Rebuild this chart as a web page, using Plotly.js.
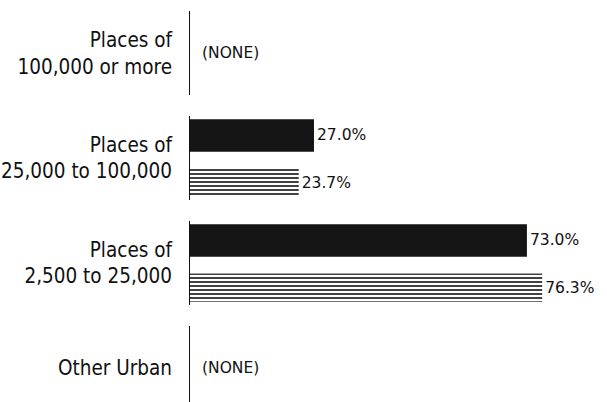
<!DOCTYPE html>
<html>
<head>
<meta charset="utf-8">
<script src="https://cdn.plot.ly/plotly-3.0.1.min.js"></script>
<style>html,body{margin:0;padding:0;background:#fff;}#chart{width:607px;height:402px;}</style>
</head>
<body>
<div id="chart"></div>
<script>
const categories = ["Places of<br>100,000 or more", "Places of<br>25,000 to 100,000", "Places of<br>2,500 to 25,000", "Other Urban"];
const solidValues = [null, 27.0, 73.0, null];
const hatchedValues = [null, 23.7, 76.3, null];
const noneLabel = "(NONE)";

const idx = categories.map((c, i) => i);
const fmt = v => v == null ? "" : v.toFixed(1) + "%";
const labelFont = {family: "DejaVu Sans Condensed, Liberation Sans Narrow, sans-serif", size: 20.5, color: "#111"};
const valueFont = {family: "DejaVu Sans, Liberation Sans, sans-serif", size: 15.5, color: "#111"};

const solid = {
  type: "bar", orientation: "h", y: idx, x: solidValues,
  offset: -0.37, width: 0.31,
  marker: {color: "#141414", line: {width: 0}},
  text: solidValues.map(fmt), textposition: "outside", cliponaxis: false,
  textfont: valueFont, hoverinfo: "skip"
};
const hatched = {
  type: "bar", orientation: "h", y: idx, x: hatchedValues,
  offset: 0.10, width: 0.27,
  marker: {color: "#ffffff", line: {width: 0},
    pattern: {shape: "-", fgcolor: "#111", bgcolor: "#ffffff", size: 4, solidity: 0.4}},
  text: hatchedValues.map(fmt), textposition: "outside", cliponaxis: false,
  textfont: valueFont, hoverinfo: "skip"
};

const shapes = idx.map(i => ({
  type: "line", xref: "x", yref: "y", x0: 0, x1: 0, y0: i - 0.4, y1: i + 0.4,
  line: {color: "#111", width: 2}
}));
const annotations = idx.filter(i => solidValues[i] == null && hatchedValues[i] == null).map(i => ({
  xref: "x", yref: "y", x: 0, y: i, text: noneLabel, showarrow: false,
  xanchor: "left", xshift: 11, font: valueFont
}));

const layout = {
  width: 607, height: 402,
  margin: {l: 189, r: 0, t: 0, b: 0},
  paper_bgcolor: "#fff", plot_bgcolor: "#fff",
  showlegend: false, barmode: "overlay",
  xaxis: {range: [0, 90.3], visible: false, showgrid: false, zeroline: false},
  yaxis: {range: [3.324, -0.505], tickmode: "array", tickvals: idx, ticktext: categories,
    showgrid: false, zeroline: false, showline: false, ticks: "", ticklabelstandoff: 16,
    tickfont: labelFont},
  shapes: shapes,
  annotations: annotations
};
Plotly.newPlot("chart", [solid, hatched], layout, {staticPlot: true, displayModeBar: false});
</script>
</body>
</html>
